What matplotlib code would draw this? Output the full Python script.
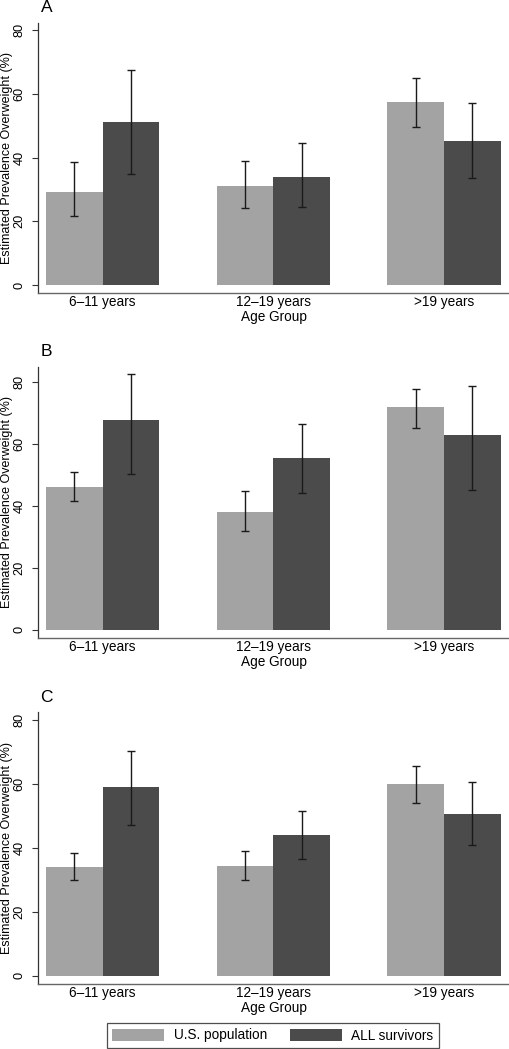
import numpy as np
import matplotlib
matplotlib.use("Agg")
import matplotlib.pyplot as plt
from matplotlib.patches import Patch

plt.rcParams['font.family'] = ['Liberation Sans', 'DejaVu Sans']

GROUPS = ["6\u201311 years", "12\u201319 years", ">19 years"]
SERIES = ["U.S. population", "ALL survivors"]
PANELS = ["A", "B", "C"]

# estimates and confidence limits per panel: [US, ALL] x groups
EST = {
    "A": [[29.3, 31.1, 57.4], [51.2, 34.0, 45.1]],
    "B": [[46.2, 38.1, 71.8], [67.7, 55.4, 62.9]],
    "C": [[33.9, 34.3, 60.0], [58.9, 43.9, 50.7]],
}
LOW = {
    "A": [[21.5, 24.3, 49.5], [34.8, 24.5, 33.5]],
    "B": [[41.5, 31.9, 65.2], [50.2, 44.1, 45.0]],
    "C": [[30.0, 30.0, 54.0], [47.1, 36.6, 41.0]],
}
HIGH = {
    "A": [[38.6, 39.0, 65.1], [67.5, 44.5, 57.2]],
    "B": [[51.0, 44.9, 77.7], [82.3, 66.2, 78.6]],
    "C": [[38.4, 39.1, 65.7], [70.2, 51.5, 60.5]],
}
YLIMS = {"A": (-2.5, 82.3), "B": (-2.7, 84.8), "C": (-2.6, 82.4)}

COLORS = ["#a3a3a3", "#4b4b4b"]

W, H = 510, 1049
fig = plt.figure(figsize=(W / 100, H / 100), dpi=100)

# axes boxes in pixels: (top, bottom)
boxes = {"A": (22.7, 293.0), "B": (366.7, 638.3), "C": (712.3, 984.0)}
left_px = 37.7

x = np.arange(len(GROUPS))
bw = 0.332
for p in PANELS:
    top, bot = boxes[p]
    ax = fig.add_axes([left_px / W, 1 - bot / H, 1 - left_px / W, (bot - top) / H])
    for i in range(2):
        xs = x + (i - 0.5) * bw
        est = np.array(EST[p][i])
        lo = est - np.array(LOW[p][i])
        hi = np.array(HIGH[p][i]) - est
        ax.bar(xs, est, width=bw, color=COLORS[i], linewidth=0)
        ax.errorbar(xs, est, yerr=[lo, hi], fmt='none', ecolor='#1a1a1a',
                    elinewidth=1.0, capsize=2.6, capthick=1.0)
    ax.set_xlim(-0.381, 2.386)
    ax.set_ylim(*YLIMS[p])
    ax.set_yticks([0, 20, 40, 60, 80])
    ax.set_xticks(x)
    ax.set_xticklabels(GROUPS, fontsize=9.8)
    ax.tick_params(axis='x', length=0, pad=1.5)
    ax.tick_params(axis='y', length=4.3, width=0.8, color='#333333', pad=4.5,
                   labelsize=9.2, labelrotation=90)
    for lab in ax.get_yticklabels():
        lab.set_verticalalignment('center')
    ax.spines['top'].set_visible(False)
    ax.spines['right'].set_visible(False)
    ax.spines['left'].set_color('#333333')
    ax.spines['bottom'].set_color('#666666')
    ax.spines['left'].set_linewidth(0.9)
    ax.spines['bottom'].set_linewidth(1.0)
    ax.set_xlabel("Age Group", fontsize=9.8, labelpad=0.5)
    ax.set_ylabel("Estimated Prevalence Overweight (%)", fontsize=9.0)
    ax.yaxis.set_label_coords(-0.052, 0.5)
    fig.text(46.7 / W, 1 - (top - 14.7) / H, p, fontsize=12.5,
             ha='center', va='center')

handles = [Patch(facecolor=c, edgecolor='none') for c in COLORS]
leg = fig.legend(handles, SERIES, loc='center', ncol=2,
                 bbox_to_anchor=(273 / W, 1 - 1035.5 / H), fontsize=9.8,
                 frameon=True, fancybox=False, handlelength=3.8,
                 handleheight=1.0, handletextpad=0.7, columnspacing=1.7,
                 borderpad=0.4, borderaxespad=0)
leg.get_frame().set_edgecolor('#222222')
leg.get_frame().set_linewidth(0.9)

fig.savefig("out.png", dpi=100)
